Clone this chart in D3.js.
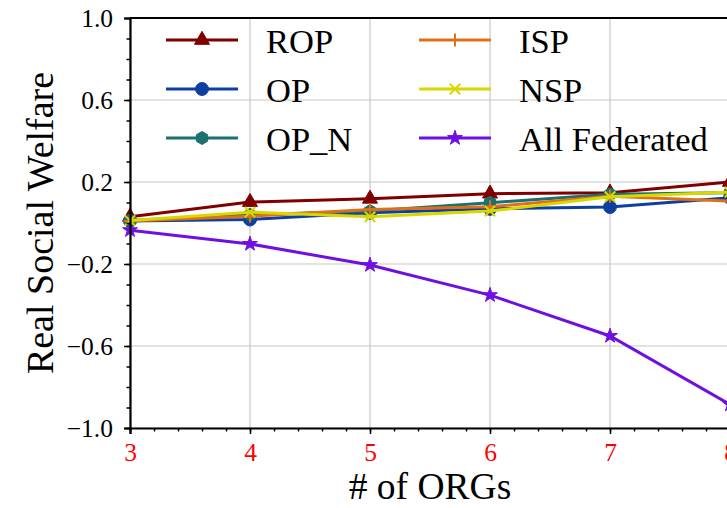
<html>
<head>
<meta charset="utf-8">
<script src="https://d3js.org/d3.v7.min.js"></script>
<style>
  body { margin: 0; background: #fff; }
</style>
</head>
<body>
<div id="chart"></div>
<script>
// data
const orgs = [3, 4, 5, 6, 7, 8];
const rop = [0.030, 0.102, 0.118, 0.143, 0.148, 0.200];
const op = [0.010, 0.017, 0.050, 0.069, 0.078, 0.123];
const opN = [0.012, 0.040, 0.058, 0.099, 0.140, 0.148];
const isp = [0.010, 0.033, 0.066, 0.079, 0.131, 0.107];
const nsp = [0.012, 0.053, 0.030, 0.058, 0.128, 0.151];
const allFed = [-0.035, -0.102, -0.205, -0.352, -0.551, -0.885];
const yTicks = [1.0, 0.6, 0.2, -0.2, -0.6, -1.0];

const series = [
  {name: "ROP", values: rop, color: "#800000", marker: "triangle"},
  {name: "OP", values: op, color: "#0d3fa0", marker: "circle"},
  {name: "OP_N", values: opN, color: "#1b7070", marker: "hexagon"},
  {name: "ISP", values: isp, color: "#e07018", marker: "plus"},
  {name: "NSP", values: nsp, color: "#d8d800", marker: "cross"},
  {name: "All Federated", values: allFed, color: "#7010e0", marker: "star"}
];

const FONT = "'Liberation Serif', 'Times New Roman', serif";
const width = 727, height = 508;
const margin = {top: 18, left: 130, bottom: 80};
const svg = d3.select("#chart").append("svg")
    .attr("width", width)
    .attr("height", height)
    .style("font-family", FONT);

const x = d3.scaleLinear().domain([3, 8]).range([margin.left, 730]);
const y = d3.scaleLinear().domain([-1, 1]).range([height - margin.bottom, margin.top]);

// grid
svg.append("g").selectAll("line").data(orgs).join("line")
    .attr("x1", d => x(d)).attr("x2", d => x(d))
    .attr("y1", y(1)).attr("y2", y(-1))
    .attr("stroke", "#c8c8c8").attr("stroke-width", 1.2);
svg.append("g").selectAll("line").data(yTicks).join("line")
    .attr("x1", x(3)).attr("x2", x(8))
    .attr("y1", d => y(d)).attr("y2", d => y(d))
    .attr("stroke", "#c8c8c8").attr("stroke-width", 1.2);

// markers
function markerPath(type, s) {
  const p = d3.path();
  if (type === "hexagon") {
    for (let i = 0; i < 6; i++) {
      const a = Math.PI / 6 + i * Math.PI / 3;
      const px = s * Math.cos(a), py = s * Math.sin(a);
      i === 0 ? p.moveTo(px, py) : p.lineTo(px, py);
    }
    p.closePath();
    return p.toString();
  }
  if (type === "plus") {
    p.moveTo(-s, 0); p.lineTo(s, 0); p.moveTo(0, -s); p.lineTo(0, s);
    return p.toString();
  }
  if (type === "cross") {
    const k = s * 0.8;
    p.moveTo(-k, -k); p.lineTo(k, k); p.moveTo(-k, k); p.lineTo(k, -k);
    return p.toString();
  }
  const sym = {triangle: d3.symbolTriangle, circle: d3.symbolCircle, star: d3.symbolStar}[type];
  const area = {triangle: 2.3, circle: 3.1, star: 1.6}[type] * s * s;
  return d3.symbol(sym, area)();
}

function drawMarker(g, d, cx, cy) {
  const open = d.marker === "plus" || d.marker === "cross";
  g.append("path")
      .attr("d", markerPath(d.marker, 6.5))
      .attr("transform", `translate(${cx},${cy})`)
      .attr("fill", open ? "none" : d.color)
      .attr("stroke", d.color)
      .attr("stroke-width", open ? 2 : 1);
}

const line = d3.line().x((v, i) => x(orgs[i])).y(v => y(v));

series.forEach(d => {
  const g = svg.append("g");
  g.append("path")
      .attr("d", line(d.values))
      .attr("fill", "none")
      .attr("stroke", d.color)
      .attr("stroke-width", 3);
  d.values.forEach((v, i) => drawMarker(g, d, x(orgs[i]), y(v)));
});

// axes
const yAxis = d3.axisLeft(y).tickValues(yTicks).tickSize(6).tickPadding(11)
    .tickFormat(d => d3.format(".1f")(d).replace("-", "\u2212"));
const gy = svg.append("g").attr("transform", `translate(${margin.left},0)`).call(yAxis);
gy.attr("font-family", FONT).attr("font-size", 25.5);
gy.selectAll("text").attr("fill", "#000");
svg.append("g").attr("transform", `translate(${margin.left},0)`)
    .call(d3.axisLeft(y).ticks(20).tickSize(3.5).tickFormat(""))
    .select(".domain").remove();

const xAxis = d3.axisBottom(x).tickValues(orgs).tickSize(6).tickPadding(9).tickFormat(d3.format("d"));
const gx = svg.append("g").attr("transform", `translate(0,${y(-1)})`).call(xAxis);
gx.attr("font-family", FONT).attr("font-size", 25.5);
gx.selectAll("text").attr("fill", "#ff0000");
svg.append("g").attr("transform", `translate(0,${y(-1)})`)
    .call(d3.axisBottom(x).ticks(20).tickSize(3.5).tickFormat(""))
    .select(".domain").remove();

svg.selectAll(".domain").attr("stroke", "#000").attr("stroke-width", 2.2);
svg.selectAll(".tick line").attr("stroke", "#000").attr("stroke-width", 1.5);

// top spine
svg.append("line")
    .attr("x1", x(3)).attr("x2", x(8))
    .attr("y1", y(1)).attr("y2", y(1))
    .attr("stroke", "#000").attr("stroke-width", 2.2);

// axis labels
svg.append("text")
    .attr("x", (x(3) + x(8)) / 2).attr("y", 499)
    .attr("text-anchor", "middle")
    .attr("font-size", 37.5)
    .text("# of ORGs");
svg.append("text")
    .attr("transform", `translate(53,${(y(1) + y(-1)) / 2}) rotate(-90)`)
    .attr("text-anchor", "middle")
    .attr("font-size", 38)
    .text("Real Social Welfare");

// legend, two columns of three
const legend = svg.append("g");
series.forEach((d, i) => {
  const col = Math.floor(i / 3), row = i % 3;
  const lx = 166 + col * 253, ly = 40 + row * 49;
  const g = legend.append("g");
  g.append("line")
      .attr("x1", lx).attr("x2", lx + 72)
      .attr("y1", ly).attr("y2", ly)
      .attr("stroke", d.color).attr("stroke-width", 3);
  drawMarker(g, d, lx + 36, ly);
  g.append("text")
      .attr("x", lx + 100).attr("y", ly + 13)
      .attr("font-size", 34.5)
      .text(d.name);
});
</script>
</body>
</html>
